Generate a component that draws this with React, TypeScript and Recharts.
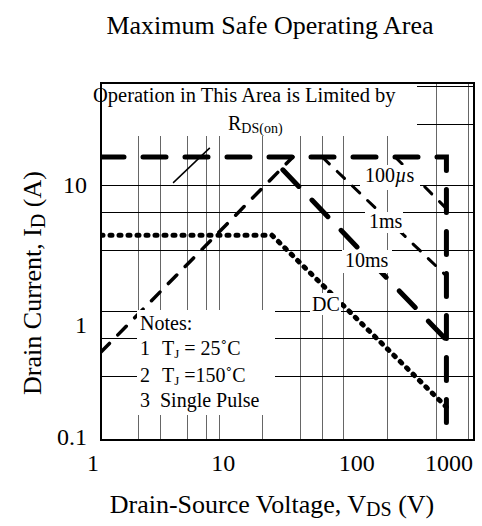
import React from 'react';
import { ComposedChart, Line, XAxis, YAxis, CartesianGrid } from 'recharts';

const FONT = '"Liberation Serif", "Times New Roman", serif';

// axis ticks and grid values
const xTicks = [1, 10, 100, 1000];
const yTicks = [0.1, 1, 10];
const xGrid = [2, 3, 4, 5, 6, 7, 8, 9, 20, 30, 40, 50, 60, 70, 80, 90, 200, 300, 400, 500, 600, 700, 800, 900];
const yGrid = [0.2, 0.3, 0.4, 0.5, 0.6, 0.7, 0.8, 0.9, 1, 2, 3, 4, 5, 6, 7, 8, 9, 10, 20, 30, 40, 50, 60];
const Y_MIN = 0.0947;
const Y_MAX = 64.5;

// curves (V_DS in V, I_D in A)
const limitV = [1, 600, 600];
const limitI = [16.7, 16.7, Y_MIN];
const rdsV = [1, 35];
const rdsI = [0.473, 16.7];
const us100V = [232, 600];
const us100I = [16.7, 6.5];
const ms1V = [60, 600];
const ms1I = [16.7, 1.9];
const ms10V = [29, 600];
const ms10I = [13.2, 0.59];
const dcV = [1, 23.7, 600];
const dcI = [4, 4, 0.173];
const pointerV = [3.8, 7.5];
const pointerI = [10.4, 19.7];

const pts = (v: number[], i: number[]) => v.map((x, k) => ({ v: x, i: i[k] }));

const xTickShift: Record<number, number> = { 1: -8, 10: -2, 100: 7, 1000: -17 };
const yTickShift: Record<number, number> = { 0.1: 0, 1: 14, 10: 0 };

const XTick = (props: any) => {
  const { x, y, payload } = props;
  return (
    <text x={x + (xTickShift[payload.value] || 0)} y={y} dy={23} textAnchor="middle"
      fontSize={24} fontFamily={FONT} fill="#000">
      {payload.value}
    </text>
  );
};

const YTick = (props: any) => {
  const { x, y, payload } = props;
  return (
    <text x={x - 6} y={y + (yTickShift[payload.value] || 0)} dy="0.35em" textAnchor="end"
      fontSize={24} fontFamily={FONT} fill="#000">
      {payload.value}
    </text>
  );
};

const heavy = { stroke: '#000', strokeWidth: 5, strokeDasharray: '23 19', strokeLinecap: 'round' as const };

export default function App() {
  return (
    <div style={{ position: 'absolute', left: 0, top: 0, width: 482, height: 526, background: '#fff' }}>
      <ComposedChart width={482} height={526} margin={{ top: 83, right: 8, bottom: 46, left: 0 }}>
        <CartesianGrid horizontal={false} vertical verticalValues={xGrid} stroke="#666" strokeWidth={1}
          shapeRendering="crispEdges" />
        <CartesianGrid vertical={false} horizontal horizontalValues={yGrid} stroke="#000" strokeWidth={1}
          shapeRendering="crispEdges" />
        <XAxis type="number" dataKey="v" scale="log" domain={[1, 1000]} ticks={xTicks}
          allowDataOverflow height={40} axisLine={false} tickLine={false} tick={XTick} />
        <YAxis type="number" dataKey="i" scale="log" domain={[Y_MIN, Y_MAX]} ticks={yTicks}
          allowDataOverflow width={101} axisLine={false} tickLine={false} tick={YTick} />
        <Line data={pts(pointerV, pointerI)} dataKey="i" type="linear" dot={false}
          stroke="#000" strokeWidth={1.5} isAnimationActive={false} />
        <Line data={pts(rdsV, rdsI)} dataKey="i" type="linear" dot={false}
          stroke="#000" strokeWidth={3.5} strokeDasharray="12 12" strokeLinecap="round" isAnimationActive={false} />
        <Line data={pts(dcV, dcI)} dataKey="i" type="linear" dot={false}
          stroke="#000" strokeWidth={5} strokeDasharray="2 7" strokeLinecap="round" isAnimationActive={false} />
        <Line data={pts(ms10V, ms10I)} dataKey="i" type="linear" dot={false} {...heavy} isAnimationActive={false} />
        <Line data={pts(ms1V, ms1I)} dataKey="i" type="linear" dot={false}
          stroke="#000" strokeWidth={3} strokeDasharray="10 11" strokeLinecap="round" isAnimationActive={false} />
        <Line data={pts(us100V, us100I)} dataKey="i" type="linear" dot={false}
          stroke="#000" strokeWidth={3} strokeDasharray="10 11" strokeLinecap="round" isAnimationActive={false} />
        <Line data={pts(limitV, limitI)} dataKey="i" type="linear" dot={false} {...heavy} isAnimationActive={false} />
      </ComposedChart>

      <svg width={482} height={526} style={{ position: 'absolute', left: 0, top: 0, pointerEvents: 'none' }}
        fontFamily={FONT} fill="#000">
        {/* label boxes */}
        <g fill="#fff">
          <rect x={101} y={83} width={316} height={53} />
          <rect x={360} y={165} width={60} height={25} />
          <rect x={365} y={212} width={38} height={21} />
          <rect x={342} y={250} width={50} height={23} />
          <rect x={310} y={293} width={31} height={22} />
          <rect x={137} y={310} width={138} height={105} />
        </g>
        <text x={93} y={102} fontSize={20.5}>Operation in This Area is Limited by</text>
        <text x={228} y={130} fontSize={20}>R<tspan fontSize={14} dy={3}>DS(on)</tspan></text>
        <text x={365} y={182} fontSize={20}>100<tspan fontStyle="italic">µ</tspan>s</text>
        <text x={369} y={228} fontSize={20}>1ms</text>
        <text x={345} y={267} fontSize={20}>10ms</text>
        <text x={312} y={311} fontSize={20}>DC</text>
        <text x={140} y={330} fontSize={20}>Notes:</text>
        <text x={140} y={355} fontSize={20}>1</text>
        <text x={162} y={355} fontSize={20}>T<tspan fontSize={13} dy={3}>J</tspan><tspan dy={-3}> = 25˚C</tspan></text>
        <text x={140} y={382} fontSize={20}>2</text>
        <text x={162} y={382} fontSize={20}>T<tspan fontSize={13} dy={3}>J</tspan><tspan dy={-3}> =150˚C</tspan></text>
        <text x={140} y={407} fontSize={20}>3</text>
        <text x={160} y={407} fontSize={20}>Single Pulse</text>

        {/* plot frame */}
        <rect x={101} y={83} width={373} height={357} fill="none" stroke="#000" strokeWidth={2} />

        {/* titles */}
        <text x={270} y={34} fontSize={26} textAnchor="middle">Maximum Safe Operating Area</text>
        <text x={272} y={513} fontSize={26} textAnchor="middle">
          Drain-Source Voltage, V<tspan fontSize={20} dy={3}>DS</tspan><tspan dy={-3}> (V)</tspan>
        </text>
        <text x={41} y={283} fontSize={26} textAnchor="middle" transform="rotate(-90 41 283)">
          Drain Current, I<tspan fontSize={20} dy={4}>D</tspan><tspan dy={-4}> (A)</tspan>
        </text>
      </svg>
    </div>
  );
}
